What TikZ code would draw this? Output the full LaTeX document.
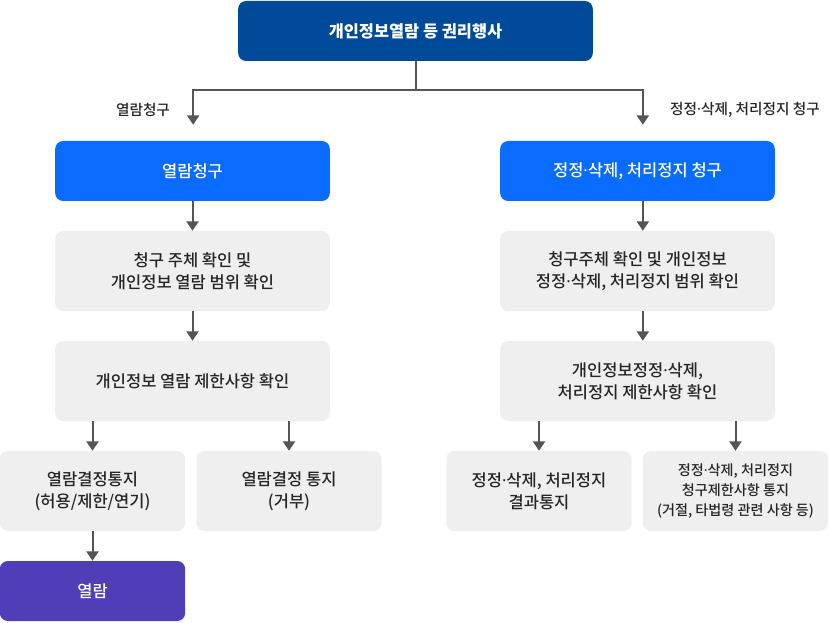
\documentclass[tikz,border=0pt]{standalone}
\usepackage{fontspec}
\setmainfont{Noto Sans CJK KR}[UprightFont={* Medium}]
\newfontfamily\dotfont{Noto Sans}
\newcommand\mdot{{\dotfont ·}}
\usetikzlibrary{arrows.meta}
\definecolor{headblue}{HTML}{004A99}
\definecolor{reqblue}{HTML}{0A6CFF}
\definecolor{boxgray}{HTML}{EFEFEF}
\definecolor{donepurple}{HTML}{503EB8}
\definecolor{linegray}{HTML}{555555}
\definecolor{txtgray}{HTML}{262626}
\begin{document}
\begin{tikzpicture}[x=0.75pt,y=-0.75pt]
    \tikzset{box/.style = {rounded corners=6pt, align=center, inner sep=0pt,
        font=\fontsize{12.4}{16.5}\selectfont}}
    \tikzset{head/.style = {box, fill=headblue, text=white, minimum width=266pt, minimum height=45pt,
        font=\fontsize{12.3}{16}\selectfont\bfseries}}
    \tikzset{req/.style = {box, fill=reqblue, text=white, minimum width=206pt, minimum height=45pt}}
    \tikzset{proc/.style = {box, fill=boxgray, text=txtgray, minimum width=206pt, minimum height=60pt}}
    \tikzset{leaf/.style = {box, fill=boxgray, text=txtgray, minimum width=139pt, minimum height=60pt}}
    \tikzset{done/.style = {box, fill=donepurple, text=white, minimum width=139pt, minimum height=45pt}}
    \tikzset{tag/.style = {text=txtgray, font=\fontsize{11}{13}\selectfont}}
    \tikzset{edge/.style = {-{Triangle[width=9pt,length=7pt]}, draw=linegray, line width=1.5pt}}

    \useasboundingbox (0,0) rectangle (830,623);

    \node[head] (top) at (415.5, 31) {개인정보열람 등 권리행사};

    \node[req] (readreq) at (192.5, 171) {열람청구};
    \node[req] (fixreq) at (637.5, 171) {정정\mdot 삭제, 처리정지 청구};

    \node[proc] (readchk) at (192.5, 271) {청구 주체 확인 및\\개인정보 열람 범위 확인};
    \node[proc] (fixchk) at (637.5, 271) {청구주체 확인 및 개인정보\\정정\mdot 삭제, 처리정지 범위 확인};

    \node[proc] (readlim) at (192.5, 381) {개인정보 열람 제한사항 확인};
    \node[proc] (fixlim) at (637.5, 381) {개인정보정정\mdot 삭제,\\처리정지 제한사항 확인};

    \node[leaf] (readok) at (92.5, 491) {열람결정통지\\(허용/제한/연기)};
    \node[leaf] (readno) at (289, 491) {열람결정 통지\\(거부)};
    \node[leaf] (fixres) at (539, 491) {정정\mdot 삭제, 처리정지\\결과통지};
    \node[leaf, font=\fontsize{10.6}{15}\selectfont] (fixno) at (735.5, 491) {정정\mdot 삭제, 처리정지\\청구제한사항 통지\\(거절, 타법령 관련 사항 등)};

    \node[done] (readdone) at (92.5, 591) {열람};

    \node[tag] (readtag) at (143, 110) {열람청구};
    \node[tag] (fixtag) at (745, 110) {정정\mdot 삭제, 처리정지 청구};

    \coordinate (split) at (415.5, 90);

    \draw[edge, shorten >=12pt] (top.south) -- (split) -| ([xshift=0.5pt]readreq.north);
    \draw[edge, shorten >=12pt] (split) -| ([xshift=4pt]fixreq.north);

    \draw[edge] (readreq) -- (readchk);
    \draw[edge] (readchk) -- (readlim);
    \draw[edge] (readok.north |- readlim.south) -- (readok.north);
    \draw[edge] (readno.north |- readlim.south) -- (readno.north);
    \draw[edge] (readok) -- (readdone);

    \draw[edge] ([xshift=4pt]fixreq.south) -- ([xshift=4pt]fixchk.north);
    \draw[edge] ([xshift=4pt]fixchk.south) -- ([xshift=4pt]fixlim.north);
    \draw[edge] (fixres.north |- fixlim.south) -- (fixres.north);
    \draw[edge] (fixno.north |- fixlim.south) -- (fixno.north);

  \end{tikzpicture}
\end{document}
